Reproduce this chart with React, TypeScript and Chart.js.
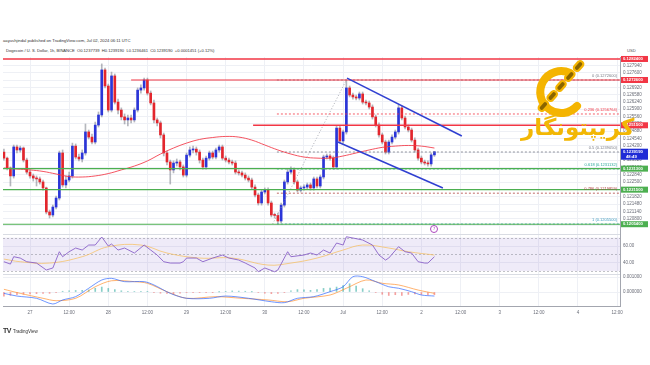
import React, { useEffect, useRef } from 'react';
import { Chart, registerables } from 'chart.js';

Chart.register(...registerables);

// ---------- data (hours counted from Jun 27 00:00) ----------
const firstCandleHour = -8;
const firstOpen = 0.1239;
const closes = [
  0.12362, 0.12316, 0.12279, 0.12414, 0.124, 0.12409, 0.12353, 0.12297,
  0.12279, 0.12269, 0.12265, 0.12251, 0.12223, 0.12111, 0.12097, 0.12134, 0.12176, 0.12386,
  0.12237, 0.1226, 0.12279, 0.12418, 0.12367, 0.12358, 0.12386, 0.12484, 0.1246, 0.12437,
  0.12516, 0.12563, 0.12773, 0.12698, 0.12586, 0.12745, 0.12623, 0.12586, 0.12554, 0.1254,
  0.12549, 0.1254, 0.12586, 0.12679, 0.12689, 0.12726, 0.12665, 0.12619, 0.1254, 0.12526,
  0.1247, 0.12386, 0.12344, 0.12307, 0.12339, 0.12344, 0.12321, 0.12283, 0.12376, 0.124,
  0.12404, 0.1239, 0.12353, 0.12321, 0.12362, 0.12386, 0.12367, 0.124, 0.12414, 0.12362,
  0.12353, 0.12344, 0.12339, 0.12297, 0.12293, 0.12283, 0.12269, 0.1226, 0.12227, 0.1219,
  0.12153, 0.12204, 0.12213, 0.12153, 0.12097, 0.12095, 0.12069, 0.12143, 0.12251, 0.12297,
  0.12307, 0.12251, 0.12213, 0.12223, 0.12227, 0.12237, 0.12223, 0.12265, 0.12232, 0.12274,
  0.12367, 0.12372, 0.12362, 0.12321, 0.12502, 0.12442, 0.12484, 0.12689, 0.12656, 0.12647,
  0.12642, 0.12661, 0.12623, 0.12619, 0.126, 0.12554, 0.12516, 0.1247, 0.12437, 0.1239,
  0.12437, 0.1246, 0.12484, 0.12596, 0.12549, 0.12507, 0.12493, 0.12446, 0.124, 0.12362,
  0.12344, 0.12339, 0.12335, 0.12377, 0.123919,
];
const highs = [
  0.12404, 0.12367, 0.12321, 0.12423, 0.12423, 0.12418, 0.12414, 0.12362,
  0.12307, 0.12288, 0.12279, 0.12274, 0.1226, 0.12227, 0.1212, 0.12143, 0.12185, 0.12395,
  0.124, 0.12279, 0.12297, 0.12432, 0.12428, 0.12381, 0.124, 0.12521, 0.12493, 0.12474,
  0.1253, 0.12577, 0.12801, 0.12782, 0.12707, 0.12763, 0.12754, 0.12637, 0.12596, 0.12568,
  0.12563, 0.12563, 0.12596, 0.12689, 0.12703, 0.12735, 0.12735, 0.12675, 0.12633, 0.12549,
  0.12535, 0.12479, 0.12395, 0.12353, 0.12349, 0.12358, 0.12353, 0.1233, 0.12386, 0.12414,
  0.12418, 0.12414, 0.124, 0.12362, 0.12372, 0.12395, 0.12395, 0.12409, 0.12423, 0.12423,
  0.12372, 0.12362, 0.12353, 0.12349, 0.12307, 0.12302, 0.12293, 0.12279, 0.12269, 0.12237,
  0.12199, 0.12213, 0.12223, 0.12223, 0.12162, 0.12106, 0.12106, 0.12153, 0.1226, 0.12311,
  0.12321, 0.12316, 0.1226, 0.12232, 0.12237, 0.12246, 0.12246, 0.12274, 0.12274, 0.12283,
  0.12376, 0.12381, 0.12381, 0.12372, 0.12512, 0.12512, 0.12493, 0.12726, 0.12698, 0.12665,
  0.12656, 0.1267, 0.1267, 0.12633, 0.12628, 0.1261, 0.12563, 0.12526, 0.12479, 0.12446,
  0.12446, 0.1247, 0.12493, 0.1261, 0.12605, 0.12558, 0.12516, 0.12502, 0.12456, 0.12409,
  0.12372, 0.12353, 0.12349, 0.12386, 0.123919,
];
const lows = [
  0.12353, 0.12307, 0.12232, 0.12269, 0.12386, 0.1239, 0.12344, 0.12288,
  0.12269, 0.12255, 0.12232, 0.12241, 0.12213, 0.12102, 0.12083, 0.12088, 0.12125, 0.12167,
  0.12227, 0.12223, 0.12251, 0.12269, 0.12358, 0.12349, 0.12344, 0.12376, 0.12451, 0.12428,
  0.12428, 0.12507, 0.12554, 0.12689, 0.12577, 0.12577, 0.12614, 0.12568, 0.1254, 0.12521,
  0.12512, 0.12526, 0.1253, 0.12577, 0.12665, 0.12679, 0.12656, 0.1261, 0.12526, 0.12512,
  0.12456, 0.12372, 0.1233, 0.12241, 0.12293, 0.12325, 0.12307, 0.12274, 0.12274, 0.12367,
  0.12386, 0.12376, 0.12339, 0.12311, 0.12311, 0.12353, 0.12358, 0.12358, 0.1239, 0.12353,
  0.12344, 0.12335, 0.1233, 0.12288, 0.12283, 0.12274, 0.1226, 0.12251, 0.12218, 0.12181,
  0.12143, 0.12143, 0.12195, 0.12143, 0.12088, 0.12083, 0.12055, 0.1206, 0.12134, 0.12241,
  0.12288, 0.12241, 0.12204, 0.12204, 0.12213, 0.12218, 0.12213, 0.12213, 0.12223, 0.12223,
  0.12265, 0.12358, 0.12353, 0.12311, 0.12311, 0.12432, 0.12432, 0.12474, 0.12647, 0.12637,
  0.12633, 0.12633, 0.12614, 0.1261, 0.12591, 0.12544, 0.12507, 0.1246, 0.12428, 0.12381,
  0.12381, 0.12428, 0.12451, 0.12474, 0.1254, 0.12498, 0.12484, 0.12437, 0.1239, 0.12353,
  0.12335, 0.1233, 0.12325, 0.12325, 0.1237,
];

const maHours = [-8, -4, 0, 4, 8, 12, 16, 20, 24, 28, 32, 36, 40, 44, 48, 52, 56, 60, 64, 68, 72, 76, 80, 84, 88, 92, 96, 100, 104, 108, 112, 116, 120, 124];
const maValues = [
  0.12316, 0.12311, 0.12307, 0.123, 0.12288, 0.12276, 0.12274, 0.12279, 0.1229, 0.12307,
  0.12325, 0.12349, 0.12381, 0.12409, 0.12432, 0.12449, 0.12458, 0.12463, 0.1246, 0.12446,
  0.12423, 0.124, 0.12381, 0.12367, 0.12362, 0.12362, 0.12372, 0.12386, 0.124, 0.12412,
  0.12418, 0.12421, 0.12418, 0.12409,
];

const rsiHours = [-8, -6, -5, -3, -1, 2, 5, 7, 9, 10, 12, 14, 16, 18, 20, 22, 24, 25, 27, 29, 32, 35, 37, 39, 41, 43, 46, 47, 48, 51, 53, 56, 59, 61, 64, 66, 69, 70, 72, 75, 76, 79, 80, 84, 86, 88, 90, 92, 94, 96, 97, 99, 102, 105, 107, 109, 110, 113, 115, 117, 119, 121, 122, 124];
const rsiValues = [41.2, 38.4, 47.2, 45.6, 41.2, 39.6, 31.3, 33.7, 53.2, 47.2, 53.2, 57.6, 55.2, 61.2, 61.2, 70.8, 60, 62.4, 55.2, 57.6, 51.6, 61.2, 55.2, 49.2, 41.2, 39.6, 39.6, 41.2, 45.6, 45.6, 41.2, 45.6, 49.2, 45.6, 43.2, 39.6, 33.7, 29.2, 33.7, 29.2, 31.3, 53.2, 47.2, 49.2, 51.6, 49.2, 55.2, 51.6, 63.6, 61.2, 71.1, 69.6, 67.2, 61.2, 49.2, 43.2, 45.6, 59.2, 53.2, 51.6, 41.2, 39.6, 39.6, 47.2];
const rsiMaHours = [-8, -3, 6, 16, 24, 34, 42, 52, 62, 73, 80, 88, 96, 102, 110, 116, 124];
const rsiMaValues = [44.4, 41.2, 39.6, 47.2, 59.2, 61.2, 51.6, 45.6, 45.6, 37.2, 39.6, 45.6, 55.2, 61.2, 57.6, 53.2, 49.2];

const macdHours = [-8, -4, 2, 7, 10, 14, 18, 22, 25, 29, 35, 38, 43, 48, 55, 60, 67, 74, 78, 82, 87, 92, 96, 99, 102, 106, 110, 113, 117, 120, 124];
const macdValues = [-0.00009, -0.00027, -0.00042, -0.0008, -0.00053, -0.00031, 0.00025, 0.0008, 0.00091, 0.00069, 0.00069, 0.00047, -0.00009, -0.00042, -0.00042, -0.00027, -0.00042, -0.00065, -0.00071, -0.00042, -0.00031, 0.00002, 0.00035, 0.00102, 0.00102, 0.00069, 0.00035, 0.00025, 0.00002, -0.0002, -0.00027];
const signalHours = [-8, -3, 4, 8, 14, 20, 25, 32, 36, 42, 48, 57, 65, 73, 79, 84, 92, 97, 103, 108, 113, 119, 124];
const signalValues = [0.00018, -0.00009, -0.00042, -0.00058, -0.00042, 0.00035, 0.00075, 0.00069, 0.00058, 0.00002, -0.00042, -0.00031, -0.00042, -0.00053, -0.00065, -0.00042, -0.0002, 0.00025, 0.0008, 0.00058, 0.00047, 0.00013, -0.00009];
const histFirstHour = -8;
const histStepHours = 2;
const histValues = [
  -0.00027, -0.00022, -0.00018, -0.00015, -0.00013, -0.00011, -0.0001, -0.00009, -0.00003, 0.00005,
  0.00008, 0.0001, 0.00011, 0.00014, 0.00025, 0.00033, 0.00024, 0.00016, 0.00008, 0.00002,
  0.00003, 0.00005, 0.00002, -0.00003, -0.00008, -0.0001, -0.00012, -0.00008, -0.00004, -0.00002,
  -0.00004, -0.00005, -0.00002, 0.00001, 0.00004, 0.00007, 0.00006, 0.00005, 0.00001, -0.00003,
  -0.00008, -0.00011, -0.00009, -0.00004, 0.00008, 0.00016, 0.00014, 0.00011, 0.00016, 0.00024,
  0.00026, 0.00033, 0.00042, 0.00055, 0.0004, 0.00022, 0.00008, -0.00003, -0.00015, -0.00023,
  -0.00018, -0.00023, -0.00016, -0.00013, -0.00016, -0.0002, -0.00018,
];

const resistancePrices = [0.12824, 0.12726, 0.12515];
const resistanceStartHours = [-8.28, 31, 68.4];
const supportPrices = [0.12313, 0.12215, 0.12054];

const fibHigh = 0.12726;
const fibLow = 0.12055;
const fibAnchorHours = [74.4, 97];
const fibStartHour = 75.7;
const fibRatios = [0, 0.236, 0.5, 0.618, 0.786, 1];

const channelUpperHours = [97.2, 132.4];
const channelUpperPrices = [0.12735, 0.12465];
const channelLowerHours = [94.4, 126.6];
const channelLowerPrices = [0.12437, 0.12223];

const xTickHours = [0, 12, 24, 36, 48, 60, 72, 84, 96, 108, 120, 132, 144, 156, 168, 180];
const xTickLabels = ['27', '12:00', '28', '12:00', '29', '12:00', '30', '12:00', 'Jul', '12:00', '2', '12:00', '3', '12:00', '4', '12:00'];
const priceTicks = [0.12794, 0.1276, 0.12726, 0.12692, 0.12658, 0.12624, 0.1259, 0.12556, 0.12522, 0.12488, 0.12454, 0.1242, 0.12386, 0.12352, 0.12318, 0.12284, 0.1225, 0.12216, 0.12182, 0.12148, 0.12114, 0.1208, 0.12046];
const rsiTicks = [40, 60];
const macdTicks = [0, 0.001];
const countdown = '48:49';

// ---------- styles ----------
const X_MIN = -8.28;
const X_MAX = 180.9;
const UP = '#2b35d8';
const DOWN = '#e3262d';
const GRID = '#eef0f5';
const AXIS_TEXT = '#6a6d78';
const fibColors = ['#787b86', '#f23645', '#787b86', '#26a69a', '#b0413e', '#3d9bbf'];
const FONT = "'Liberation Sans', 'DejaVu Sans', Arial, sans-serif";

const opens = closes.map((_, i) => (i === 0 ? firstOpen : closes[i - 1]));
const fibPrice = (r: number) => fibHigh - r * (fibHigh - fibLow);

const hLine = (y: number, from: number, color: string, width: number, dash: number[] = [], order = 2) => ({
  type: 'line' as const,
  data: [{ x: from, y }, { x: X_MAX, y }],
  borderColor: color,
  borderWidth: width,
  borderDash: dash,
  pointRadius: 0,
  yAxisID: 'y',
  order,
});

const panelPlugin = {
  id: 'panels',
  beforeDatasetsDraw(chart: any) {
    const { ctx, chartArea } = chart;
    const r = chart.scales.yRsi;
    const m = chart.scales.yMacd;
    const y70 = r.getPixelForValue(70);
    const y30 = r.getPixelForValue(30);
    const y50 = r.getPixelForValue(50);
    ctx.save();
    ctx.fillStyle = 'rgba(126,87,194,0.12)';
    ctx.fillRect(chartArea.left, y70, chartArea.right - chartArea.left, y30 - y70);
    ctx.strokeStyle = 'rgba(120,123,134,0.45)';
    ctx.lineWidth = 1;
    ctx.setLineDash([2, 2]);
    [y70, y30, y50].forEach((yy) => {
      ctx.beginPath();
      ctx.moveTo(chartArea.left, Math.round(yy) + 0.5);
      ctx.lineTo(chartArea.right, Math.round(yy) + 0.5);
      ctx.stroke();
    });
    ctx.setLineDash([]);
    ctx.strokeStyle = '#d9dce3';
    [r.top, m.top].forEach((yy: number) => {
      ctx.beginPath();
      ctx.moveTo(chartArea.left, Math.round(yy) + 0.5);
      ctx.lineTo(chartArea.right, Math.round(yy) + 0.5);
      ctx.stroke();
    });
    ctx.restore();
  },
};

const labelPlugin = {
  id: 'labels',
  afterDraw(chart: any) {
    const { ctx, chartArea } = chart;
    const ys = chart.scales.y;
    ctx.save();
    ctx.font = `4px ${FONT}`;
    ctx.textAlign = 'right';
    ctx.textBaseline = 'middle';
    fibRatios.forEach((r, i) => {
      const p = fibPrice(r);
      ctx.fillStyle = fibColors[i];
      ctx.fillText(`${r} (${p.toFixed(7)})`, chartArea.right - 3, ys.getPixelForValue(p) - 4.5);
    });
    const left = ys.left + 1;
    const w = 27;
    const tag = (price: number, color: string, extra?: string) => {
      const py = ys.getPixelForValue(price);
      const h = extra ? 11 : 6;
      ctx.fillStyle = color;
      ctx.fillRect(left, py - 3, w, h);
      ctx.fillStyle = '#ffffff';
      ctx.font = `bold 4.2px ${FONT}`;
      ctx.textAlign = 'left';
      ctx.textBaseline = 'middle';
      ctx.fillText(price.toFixed(7), left + 2, py);
      if (extra) ctx.fillText(extra, left + 5, py + 5);
    };
    resistancePrices.forEach((p) => tag(p, '#f23645'));
    supportPrices.forEach((p) => tag(p, '#4caf50'));
    tag(closes[closes.length - 1], '#1f2bd6', countdown);
    ctx.restore();
  },
};

export default function App() {
  const canvasRef = useRef<HTMLCanvasElement>(null);

  useEffect(() => {
    if (!canvasRef.current) return;
    Chart.defaults.font.family = FONT;

    const hours = closes.map((_, i) => firstCandleHour + i);
    const datasets: any[] = [];

    resistancePrices.forEach((p, i) => datasets.push(hLine(p, resistanceStartHours[i], '#f23645', i === 1 ? 1.2 : 1.5)));
    supportPrices.forEach((p) => datasets.push(hLine(p, X_MIN, '#4caf50', 1.1)));
    fibRatios.forEach((r, i) => datasets.push(hLine(fibPrice(r), fibStartHour, fibColors[i], 0.8, [2, 2], 3)));
    datasets.push({
      type: 'line',
      data: [{ x: fibAnchorHours[0], y: fibLow }, { x: fibAnchorHours[1], y: fibHigh }],
      borderColor: '#9598a1', borderWidth: 0.8, borderDash: [1, 2], pointRadius: 0, yAxisID: 'y', order: 3,
    });
    datasets.push({
      type: 'line',
      data: channelUpperHours.map((x, i) => ({ x, y: channelUpperPrices[i] })),
      borderColor: '#2f3fd1', borderWidth: 1.5, pointRadius: 0, yAxisID: 'y', order: 1,
    });
    datasets.push({
      type: 'line',
      data: channelLowerHours.map((x, i) => ({ x, y: channelLowerPrices[i] })),
      borderColor: '#2f3fd1', borderWidth: 1.5, pointRadius: 0, yAxisID: 'y', order: 1,
    });
    datasets.push({
      type: 'line',
      data: maHours.map((x, i) => ({ x, y: maValues[i] })),
      borderColor: 'rgba(242,54,69,0.85)', borderWidth: 1, pointRadius: 0, tension: 0.4, yAxisID: 'y', order: 2,
    });
    datasets.push({
      type: 'bar',
      data: hours.map((x, i) => ({ x, y: [lows[i], highs[i]] })),
      backgroundColor: 'rgba(120,123,134,0.55)',
      barThickness: 1, grouped: false, yAxisID: 'y', order: 6,
    });
    datasets.push({
      type: 'bar',
      data: hours.map((x, i) => ({ x, y: [opens[i], closes[i]] })),
      backgroundColor: closes.map((c, i) => (c >= opens[i] ? UP : DOWN)),
      barThickness: 2, minBarLength: 1, grouped: false, yAxisID: 'y', order: 5,
    });
    datasets.push({
      type: 'line',
      data: rsiHours.map((x, i) => ({ x, y: rsiValues[i] })),
      borderColor: '#8a62c8', borderWidth: 0.9, pointRadius: 0, yAxisID: 'yRsi', order: 1,
    });
    datasets.push({
      type: 'line',
      data: rsiMaHours.map((x, i) => ({ x, y: rsiMaValues[i] })),
      borderColor: 'rgba(247,190,90,0.8)', borderWidth: 0.9, pointRadius: 0, tension: 0.4, yAxisID: 'yRsi', order: 2,
    });
    datasets.push({
      type: 'bar',
      data: histValues.map((v, i) => ({ x: histFirstHour + i * histStepHours, y: v })),
      backgroundColor: histValues.map((v) => (v >= 0 ? 'rgba(38,166,154,0.55)' : 'rgba(239,83,80,0.55)')),
      barThickness: 1, grouped: false, yAxisID: 'yMacd', order: 4,
    });
    datasets.push({
      type: 'line',
      data: macdHours.map((x, i) => ({ x, y: macdValues[i] })),
      borderColor: 'rgba(41,98,255,0.75)', borderWidth: 0.9, pointRadius: 0, tension: 0.3, yAxisID: 'yMacd', order: 1,
    });
    datasets.push({
      type: 'line',
      data: signalHours.map((x, i) => ({ x, y: signalValues[i] })),
      borderColor: 'rgba(255,140,40,0.75)', borderWidth: 0.9, pointRadius: 0, tension: 0.3, yAxisID: 'yMacd', order: 2,
    });

    const yCommon = (weight: number, min: number, max: number, ticks: number[], digits: number) => ({
      type: 'linear' as const,
      position: 'right' as const,
      stack: 'panes',
      stackWeight: weight,
      min,
      max,
      grid: { color: GRID, drawTicks: false },
      border: { color: '#a3a6af' },
      ticks: {
        font: { size: 4.5 },
        color: AXIS_TEXT,
        padding: 3,
        autoSkip: false,
        callback: (v: any) => Number(v).toFixed(digits),
      },
      afterBuildTicks: (s: any) => { s.ticks = ticks.map((value) => ({ value })); },
      afterFit: (s: any) => { s.width = 30; },
    });

    const chart = new Chart(canvasRef.current, {
      type: 'bar',
      data: { datasets },
      options: {
        animation: false,
        responsive: false,
        maintainAspectRatio: false,
        events: [],
        layout: { padding: { top: 57, left: 3, right: 0, bottom: 45 } },
        plugins: { legend: { display: false }, tooltip: { enabled: false } },
        scales: {
          x: {
            type: 'linear',
            position: 'bottom',
            offset: false,
            min: X_MIN,
            max: X_MAX,
            grid: { color: GRID, drawTicks: false, offset: false },
            border: { color: '#a3a6af' },
            ticks: {
              font: { size: 4.5 },
              color: AXIS_TEXT,
              padding: 4,
              autoSkip: false,
              maxRotation: 0,
              callback: (v: any) => xTickLabels[xTickHours.indexOf(Number(v))] ?? '',
            },
            afterBuildTicks: (s: any) => { s.ticks = xTickHours.map((value) => ({ value })); },
            afterFit: (s: any) => { s.height = 14; },
          },
          y: yCommon(177, 0.120084, 0.128332, priceTicks, 6),
          yRsi: yCommon(40, 26.5, 74.4, rsiTicks, 2),
          yMacd: yCommon(32, -0.000933, 0.0012, macdTicks, 6),
        },
      } as any,
      plugins: [panelPlugin, labelPlugin],
    });
    return () => chart.destroy();
  }, []);

  const chainLinks = [0.1, 0.3, 0.5, 0.7, 0.9];

  return (
    <div style={{ position: 'fixed', left: 0, top: 0, width: 650, height: 365, background: '#ffffff', overflow: 'hidden', fontFamily: FONT }}>
      <div style={{ position: 'absolute', left: 3, top: 38, fontSize: 4.2, color: '#333', whiteSpace: 'nowrap' }}>
        aayushjindal published on TradingView.com, Jul 02, 2024 06:11 UTC
      </div>
      <div style={{ position: 'absolute', left: 6, top: 48, fontSize: 4.1, color: '#333', whiteSpace: 'nowrap' }}>
        Dogecoin / U. S. Dollar, 1h, BINANCE&nbsp; O0.1237739&nbsp; H0.1239190&nbsp; L0.1236461&nbsp; C0.1239190&nbsp; +0.0001451 (+0.12%)
      </div>
      <div style={{ position: 'absolute', left: 627, top: 48, fontSize: 4.2, color: '#555' }}>USD</div>
      <canvas ref={canvasRef} width={650} height={365} style={{ position: 'absolute', left: 0, top: 0, width: 650, height: 365 }} />
      <svg style={{ position: 'absolute', left: 528, top: 58 }} width={72} height={62} viewBox="0 0 72 62">
        <path d="M 42 15 A 21 21 0 1 0 49 48" stroke="#f4b400" strokeWidth={8} fill="none" strokeLinecap="round" />
        {chainLinks.map((t) => (
          <g key={t} transform={`translate(${55 - 44 * t} ${3 + 50 * t}) rotate(131)`}>
            <rect x={-5.5} y={-3} width={11} height={6} rx={2.8} fill="#8a6500" stroke="#f4b400" strokeWidth={2.2} />
          </g>
        ))}
      </svg>
      <div dir="rtl" style={{ position: 'absolute', left: 521, top: 116, fontFamily: "'DejaVu Sans', sans-serif", fontWeight: 'bold', fontSize: 23, color: '#f2b705', whiteSpace: 'nowrap', lineHeight: 1 }}>
        کریپتونگار
      </div>
      <div style={{ position: 'absolute', left: 430, top: 225, width: 6, height: 6, border: '1px solid #ab47bc', borderRadius: '50%', fontSize: 4, color: '#ab47bc', textAlign: 'center', lineHeight: '6px' }}>7</div>
      <div style={{ position: 'absolute', left: 3, top: 319, whiteSpace: 'nowrap', color: '#333' }}>
        <span style={{ fontSize: 7, fontWeight: 'bold', letterSpacing: -0.5 }}>TV</span>
        <span style={{ fontSize: 4.5, marginLeft: 2 }}>TradingView</span>
      </div>
    </div>
  );
}
